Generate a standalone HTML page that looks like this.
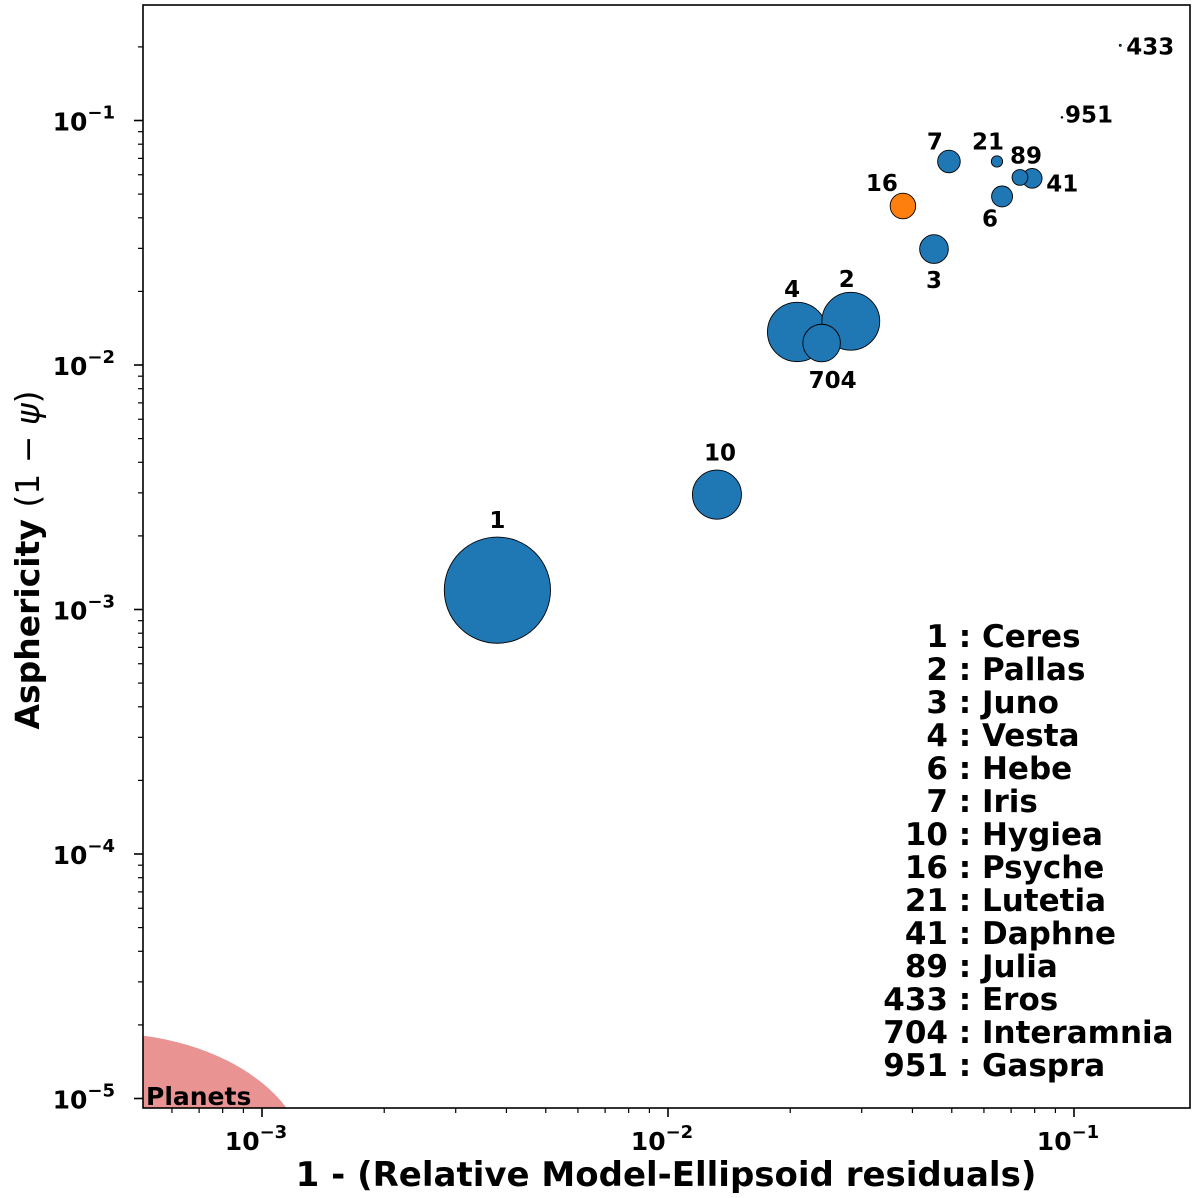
<!DOCTYPE html>
<html><head><meta charset="utf-8"><style>
html,body{margin:0;background:#fff;width:1200px;height:1198px;overflow:hidden}
svg{display:block;font-family:"DejaVu Sans","Liberation Sans",sans-serif}
</style></head><body>
<svg id="chart" width="1200" height="1198" viewBox="0 0 1200 1198"></svg>
<script>
const names=["1","2","3","4","6","7","10","16","21","41","89","433","704","951"];
const fullNames=["Ceres","Pallas","Juno","Vesta","Hebe","Iris","Hygiea","Psyche","Lutetia","Daphne","Julia","Eros","Interamnia","Gaspra"];
const xVals=[0.0038,0.0282,0.0452,0.0208,0.0665,0.0492,0.0132,0.0379,0.0646,0.0789,0.0736,0.13,0.0239,0.0934];
const yVals=[0.0012,0.0151,0.0298,0.01365,0.0489,0.068,0.00295,0.0447,0.068,0.058,0.0585,0.203,0.0123,0.103];
const diam=[940,512,254,525,185,200,434,226,100,174,140,17,332,12];
const xTicks=[-3,-2,-1];
const yTicks=[-5,-4,-3,-2,-1];
// label offsets (layout, not data)
const lblOff=[[0,-70],[-4,-42],[0,31],[-5,-43],[-12,22],[-14,-20],[3,-42],[-21,-23],[-9,-20],[30,5],[6,-22],[30,1],[11,37],[27,-3]];
const L=143,R=1190,T=5,B=1108;
const X=v=>668+(Math.log10(v)+2)*406;
const Y=v=>365-(Math.log10(v)+2)*244.5;
const NS="http://www.w3.org/2000/svg";
const svg=document.getElementById('chart');
function mk(t,a,p){const e=document.createElementNS(NS,t);for(const k in a)e.setAttribute(k,a[k]);(p||svg).appendChild(e);return e;}
const pl=mk('path',{d:'M143,1108 L143,1035.6 A205,135 0 0 1 286.6,1108 Z',fill:'#ea9393'});

const pt=mk('text',{x:146,y:1105,'font-size':25,'font-weight':'bold'});pt.textContent='Planets';

for(let d=-4;d<=0;d++)for(let m=1;m<10;m++){const v=m*Math.pow(10,d);const x=X(v);if(x<L||x>R)continue;
 mk('line',{x1:x,x2:x,y1:B,y2:B+(m==1?9:5),stroke:'#000','stroke-width':m==1?1.6:1.2});}
for(let d=-6;d<=0;d++)for(let m=1;m<10;m++){const v=m*Math.pow(10,d);const y=Y(v);if(y<T||y>B)continue;
 mk('line',{x1:L,x2:L-(m==1?9:5),y1:y,y2:y,stroke:'#000','stroke-width':m==1?1.6:1.2});}
xTicks.forEach(d=>{const t=mk('text',{x:X(Math.pow(10,d))-6,y:1150,'font-size':25,'font-weight':'bold','text-anchor':'middle'});
 
 t.innerHTML='10<tspan dy="-12" font-size="18">−'+(-d)+'</tspan>';});
yTicks.forEach(d=>{const t=mk('text',{x:115,y:Y(Math.pow(10,d))+10,'font-size':25,'font-weight':'bold','text-anchor':'end'});
 
 t.innerHTML='10<tspan dy="-12" font-size="18">−'+(-d)+'</tspan>';});
const order=names.map((n,i)=>i).sort((a,b)=>diam[b]-diam[a]);
order.forEach(i=>{const c=mk('circle',{cx:X(xVals[i]),cy:Y(yVals[i]),r:Math.max(diam[i]*0.0565,0.8),fill:names[i]=='16'?'#ff7f0e':'#1f77b4',stroke:'#000','stroke-width':0.9});
 });
names.forEach((n,i)=>{const t=mk('text',{x:X(xVals[i])+lblOff[i][0],y:Y(yVals[i])+lblOff[i][1]+8,'font-size':23,'font-weight':'bold','text-anchor':'middle'});
 t.textContent=n;});
const fr=mk('rect',{x:L,y:T,width:R-L,height:B-T,fill:'none',stroke:'#000','stroke-width':1.6});

names.forEach((n,i)=>{const y=647+i*33;
 const a=mk('text',{x:948,y:y,'font-size':31,'font-weight':'bold','text-anchor':'end'});a.textContent=n;
 
 const b=mk('text',{x:948,y:y,'font-size':31,'font-weight':'bold'});b.textContent='\u00a0: '+fullNames[i];
 });
const xl=mk('text',{x:666,y:1186,'font-size':34,'font-weight':'bold','text-anchor':'middle'});
xl.textContent='1 - (Relative Model-Ellipsoid residuals)';
const yl=mk('text',{x:0,y:0,'font-size':33,'font-weight':'bold','text-anchor':'middle',transform:'translate(39,560) rotate(-90)'});
yl.innerHTML='Asphericity <tspan font-weight="normal">(1 − <tspan font-style="italic">ψ</tspan>)</tspan>';

</script>
</body></html>
